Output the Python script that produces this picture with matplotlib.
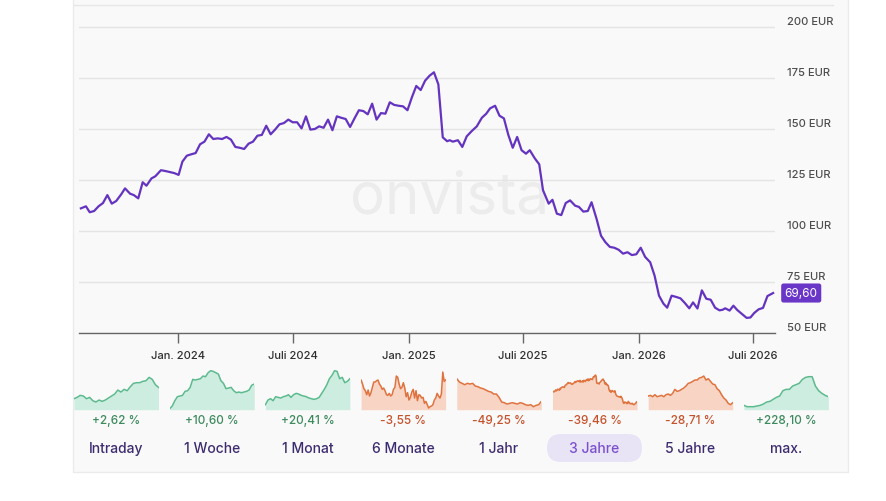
import numpy as np
import pandas as pd
import matplotlib
matplotlib.use('Agg')
import matplotlib.pyplot as plt
from matplotlib.patches import Rectangle, FancyBboxPatch
from matplotlib.lines import Line2D
from matplotlib.transforms import ScaledTranslation, IdentityTransform

plt.rcParams['font.family'] = ['Inter', 'DejaVu Sans']

W, H = 886, 502

# price history (3 years, EUR)
price_dates = [
    '2023-07-31', '2023-08-08', '2023-08-14', '2023-08-21', '2023-08-28', '2023-09-04',
    '2023-09-11', '2023-09-18', '2023-09-25', '2023-10-03', '2023-10-09', '2023-10-17',
    '2023-10-23', '2023-10-30', '2023-11-06', '2023-11-12', '2023-11-20', '2023-11-26',
    '2023-12-05', '2023-12-12', '2023-12-19', '2023-12-26', '2024-01-02', '2024-01-08',
    '2024-01-15', '2024-01-22', '2024-01-29', '2024-02-05', '2024-02-12', '2024-02-19',
    '2024-02-26', '2024-03-04', '2024-03-11', '2024-03-18', '2024-03-25', '2024-04-01',
    '2024-04-08', '2024-04-15', '2024-04-22', '2024-04-29', '2024-05-06', '2024-05-13',
    '2024-05-20', '2024-05-27', '2024-06-03', '2024-06-10', '2024-06-17', '2024-06-24',
    '2024-07-01', '2024-07-08', '2024-07-15', '2024-07-22', '2024-07-29', '2024-08-05',
    '2024-08-12', '2024-08-19', '2024-08-26', '2024-09-02', '2024-09-09', '2024-09-16',
    '2024-09-23', '2024-09-30', '2024-10-07', '2024-10-14', '2024-10-21', '2024-10-28',
    '2024-11-04', '2024-11-11', '2024-11-18', '2024-11-25', '2024-12-02', '2024-12-09',
    '2024-12-16', '2024-12-23', '2024-12-30', '2025-01-06', '2025-01-13', '2025-01-20',
    '2025-01-27', '2025-02-03', '2025-02-10', '2025-02-17', '2025-02-24', '2025-03-03',
    '2025-03-07', '2025-03-12', '2025-03-20', '2025-03-27', '2025-04-03', '2025-04-11',
    '2025-04-19', '2025-04-27', '2025-05-04', '2025-05-10', '2025-05-18', '2025-05-25',
    '2025-06-01', '2025-06-08', '2025-06-15', '2025-06-22', '2025-06-29', '2025-07-06',
    '2025-07-12', '2025-07-20', '2025-07-27', '2025-08-02', '2025-08-11', '2025-08-17',
    '2025-08-24', '2025-08-31', '2025-09-07', '2025-09-14', '2025-09-22', '2025-09-28',
    '2025-10-05', '2025-10-12', '2025-10-18', '2025-10-26', '2025-11-02', '2025-11-09',
    '2025-11-16', '2025-11-23', '2025-11-30', '2025-12-07', '2025-12-14', '2025-12-21',
    '2025-12-28', '2026-01-04', '2026-01-11', '2026-01-19', '2026-01-26', '2026-02-02',
    '2026-02-09', '2026-02-15', '2026-02-22', '2026-03-02', '2026-03-08', '2026-03-15',
    '2026-03-22', '2026-03-28', '2026-04-04', '2026-04-11', '2026-04-18', '2026-04-25',
    '2026-05-02', '2026-05-09', '2026-05-14', '2026-05-18', '2026-05-25', '2026-05-31',
    '2026-06-06', '2026-06-14', '2026-06-21', '2026-06-27', '2026-07-03', '2026-07-10',
    '2026-07-17', '2026-07-24', '2026-08-02',
]
price_values = [
    111.1, 112.1, 109.2, 109.8, 112.1, 113.7,
    117.6, 113.4, 114.7, 118.0, 120.9, 118.3,
    117.6, 116.0, 123.9, 122.2, 125.8, 126.8,
    129.8, 129.4, 128.9, 128.4, 127.5, 134.0,
    136.9, 137.6, 138.2, 142.5, 143.8, 147.4,
    145.1, 145.4, 145.1, 146.1, 144.8, 141.2,
    140.8, 140.2, 142.8, 143.8, 146.7, 147.1,
    151.6, 147.4, 149.7, 152.3, 152.9, 154.6,
    153.3, 153.3, 150.3, 156.2, 149.7, 150.0,
    151.3, 150.6, 154.6, 149.4, 156.2, 155.5,
    154.9, 151.0, 155.2, 159.2, 158.8, 157.2,
    162.4, 154.6, 157.8, 157.5, 163.1, 161.8,
    161.4, 161.1, 159.2, 165.5, 171.1, 169.1,
    173.7, 176.1, 177.8, 171.9, 145.9, 144.0,
    144.5, 143.8, 144.5, 141.2, 146.4, 149.0,
    151.3, 155.5, 157.5, 160.1, 161.4, 156.5,
    155.2, 147.1, 140.8, 146.1, 139.6, 137.9,
    139.6, 135.6, 132.7, 120.0, 113.4, 115.3,
    108.5, 107.8, 113.7, 115.0, 112.4, 111.8,
    109.5, 109.8, 114.1, 105.9, 97.7, 94.5,
    92.2, 91.8, 90.8, 88.9, 89.6, 88.2,
    88.6, 91.8, 87.3, 84.7, 78.1, 68.3,
    64.4, 62.4, 68.3, 67.6, 67.0, 64.7,
    62.1, 65.0, 62.0, 70.9, 66.8, 66.3,
    62.4, 61.1, 61.4, 62.1, 61.0, 63.4,
    61.3, 59.2, 57.4, 57.6, 59.8, 61.6,
    62.3, 68.1, 69.6,
]

y_ticks = [50, 75, 100, 125, 150, 175, 200]
x_tick_dates = ['2024-01-01', '2024-07-01', '2025-01-01', '2025-07-01', '2026-01-01', '2026-07-01']
x_tick_labels = ['Jan. 2024', 'Juli 2024', 'Jan. 2025', 'Juli 2025', 'Jan. 2026', 'Juli 2026']

# period cards
periods = ['Intraday', '1 Woche', '1 Monat', '6 Monate', '1 Jahr', '3 Jahre', '5 Jahre', 'max.']
changes = [2.62, 10.60, 20.41, -3.55, -49.25, -39.46, -28.71, 228.10]
selected = '3 Jahre'

# sparkline shapes (relative levels)
spark_intraday = [33, 37, 43, 41, 33, 37, 27, 23, 29, 25, 29, 35, 41, 47, 59, 53, 61, 57, 69, 79,
                  81, 81, 85, 87, 97, 91, 75, 67]
spark_week = [3, 11, 27, 39, 41, 43, 55, 57, 67, 91, 89, 91, 93, 101, 99, 111, 117, 115, 111, 107,
              87, 79, 63, 65, 67, 57, 51, 53, 51, 53, 55, 59, 73, 77]
spark_month = [15, 29, 33, 27, 39, 37, 35, 39, 41, 45, 37, 45, 49, 47, 43, 41, 39, 35, 33, 31,
               33, 37, 49, 61, 75, 93, 103, 117, 115, 93, 97, 81, 85, 93]
spark_6m = [89, 77, 63, 57, 45, 59, 41, 51, 67, 83, 83, 87, 89, 77, 71, 61, 65, 57, 45, 43,
            49, 41, 45, 61, 67, 101, 97, 77, 63, 67, 81, 65, 39, 51, 29, 37, 53, 61, 35, 57,
            27, 45, 43, 35, 37, 19, 25, 15, 5, 9, 11, 15, 29, 35, 49, 41, 35, 47, 113, 85, 89]
spark_1y = [93, 83, 79, 75, 79, 77, 79, 71, 69, 65, 63, 59, 55, 53, 47, 47, 37, 23, 21, 17,
            19, 21, 19, 17, 21, 19, 15, 13, 15, 9, 13, 15, 25]
spark_5y = [41, 43, 39, 45, 39, 41, 43, 39, 45, 47, 43, 49, 61, 55, 57, 61, 65, 71, 79, 81,
            85, 89, 89, 95, 97, 101, 89, 93, 85, 77, 75, 63, 57, 45, 35, 29, 19, 15, 21]
spark_max = [13, 9, 9, 9, 11, 13, 17, 23, 25, 31, 37, 41, 57, 61, 61, 71, 75, 79, 91, 97,
             99, 99, 71, 57, 49, 43, 39]

PURPLE = '#6434c0'
GREEN_LINE, GREEN_FILL, GREEN_TXT = '#5cba8e', '#cdede0', '#3d8a5d'
RED_LINE, RED_FILL, RED_TXT = '#e0723d', '#f7d4c3', '#c6522b'


def fx(x):
    return x / W


def fy(y):
    return 1 - y / H


fig = plt.figure(figsize=(W / 100, H / 100), dpi=100)
fig.patch.set_facecolor('white')

# card background
fig.add_artist(Rectangle((fx(73), fy(473)), (848 - 73) / W, 473 / H + 0.02,
                         transform=fig.transFigure, fc='#f9f9f9', ec='#ebebeb', lw=1, zorder=-1))
fig.add_artist(Line2D([fx(74), fx(833)], [fy(6), fy(6)], transform=fig.transFigure,
                      color='#e6e6e6', lw=1, zorder=-0.5))

# main chart
ax = fig.add_axes([fx(79), fy(334), (775 - 79) / W, (334 - 6) / H])
ax.set_facecolor('none')
dates = pd.to_datetime(price_dates)
ax.plot(dates, price_values, color=PURPLE, lw=1.6, zorder=3, solid_joinstyle='round')
ax.set_ylim(50, 50 + 328 / 306 * 150)
ax.set_xlim(pd.Timestamp('2023-07-28'), pd.Timestamp('2026-08-05'))

ax.set_yticks(y_ticks)
ax.set_yticklabels([f'{v} EUR' for v in y_ticks], va='baseline', fontweight='medium')
ax.yaxis.tick_right()
ax.tick_params(axis='y', length=0, pad=8.6, labelsize=8, labelcolor='#4d4d4d')
for lab in ax.get_yticklabels():
    lab.set_transform(lab.get_transform() + ScaledTranslation(0, 2.5 / 72, fig.dpi_scale_trans))
ax.grid(axis='y', color='#e4e4e4', lw=1)
ax.grid(axis='x', visible=False)

ax.set_xticks(pd.to_datetime(x_tick_dates))
ax.set_xticklabels(x_tick_labels, fontweight='medium')
ax.tick_params(axis='x', length=7, width=1, color='#666666', pad=5, labelsize=8, labelcolor='#2e2e2e')
for side in ['top', 'left', 'right']:
    ax.spines[side].set_visible(False)
ax.spines['bottom'].set_color('#666666')
ax.spines['bottom'].set_linewidth(1)

# watermark
ax.text(fx(450), fy(213), 'onvista', transform=fig.transFigure, ha='center', va='baseline',
        fontsize=42, color='#ececec', zorder=1)

# last price badge
last = price_values[-1]
ax.annotate(f'{last:.2f}'.replace('.', ','), xy=(1, last), xycoords=('axes fraction', 'data'),
            xytext=(7, 0), textcoords='offset points', ha='left', va='center',
            fontsize=8.5, color='white', annotation_clip=False,
            bbox=dict(boxstyle='round,pad=0.3,rounding_size=0.2', fc='#6a36c8', ec='none'))

# period cards
sparks = {
    'Intraday': spark_intraday, '1 Woche': spark_week, '1 Monat': spark_month,
    '6 Monate': spark_6m, '1 Jahr': spark_1y, '5 Jahre': spark_5y, 'max.': spark_max,
}
for i, (name, chg) in enumerate(zip(periods, changes)):
    left = 74 + i * 95.7
    cx = left + 42
    up = chg >= 0
    lc, fc, tc = (GREEN_LINE, GREEN_FILL, GREEN_TXT) if up else (RED_LINE, RED_FILL, RED_TXT)

    sax = fig.add_axes([fx(left), fy(410.7), 84.5 / W, 40 / H])
    if name == '3 Jahre':
        vals = np.array(price_values)
        lo, hi = vals.min(), vals.max()
        k = (hi - lo) / 89
        bottom, top = lo - 15 * k, lo + 105 * k
        sax.fill_between(dates, vals, bottom, color=fc, lw=0)
        sax.plot(dates, vals, color=lc, lw=1.1)
        sax.set_xlim(dates[0], dates[-1])
        sax.set_ylim(bottom, top)
    else:
        vals = sparks[name]
        x = np.arange(len(vals))
        sax.fill_between(x, vals, 0, color=fc, lw=0)
        sax.plot(x, vals, color=lc, lw=1.1)
        sax.set_xlim(0, len(vals) - 1)
        sax.set_ylim(0, 120)
    sax.axis('off')

    fig.text(fx(cx), fy(421), f'{chg:+.2f} %'.replace('.', ','), ha='center', va='center',
             fontsize=8.5, color=tc, fontweight='medium')
    if name == selected:
        fig.add_artist(FancyBboxPatch((cx - 47.5, H - 463), 95, 28,
                                      boxstyle='round,pad=0,rounding_size=14',
                                      transform=IdentityTransform(), fc='#e9e3f6', ec='none',
                                      zorder=0))
        fig.text(fx(cx), fy(449), name, ha='center', va='center', fontsize=10, color='#7a50cf',
                 fontweight='medium', zorder=2)
    else:
        fig.text(fx(cx), fy(449), name, ha='center', va='center', fontsize=10, color='#3e2c70',
                 fontweight='medium')

fig.savefig('out.png', dpi=100)
